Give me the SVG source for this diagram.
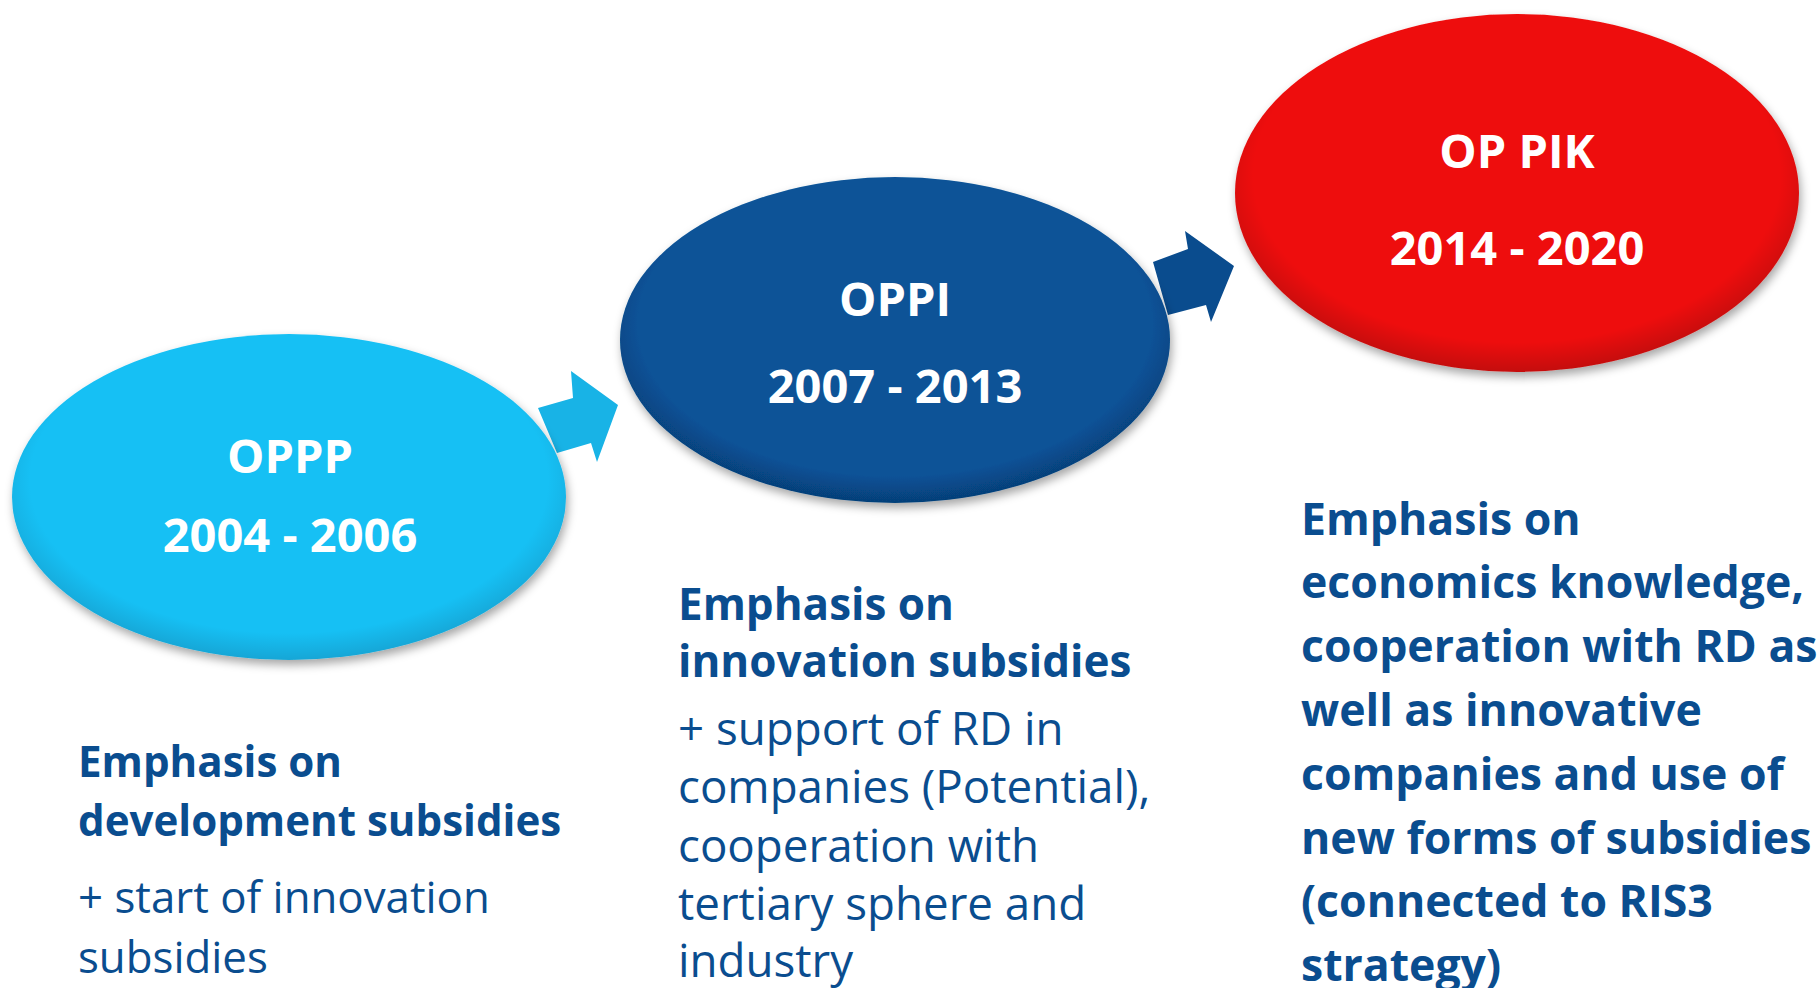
<svg xmlns="http://www.w3.org/2000/svg" width="1820" height="988" viewBox="0 0 1820 988">
<defs>
<filter id="sh" x="-10%" y="-10%" width="120%" height="125%">
<feDropShadow dx="2" dy="5" stdDeviation="5" flood-color="#000" flood-opacity="0.35"/>
</filter>
<radialGradient id="g1" cx="50%" cy="45%" r="55%">
<stop offset="0.85" stop-color="#19c0f4"/>
<stop offset="1" stop-color="#14a6d6"/>
</radialGradient>
<radialGradient id="g2" cx="50%" cy="45%" r="55%">
<stop offset="0.85" stop-color="#085297"/>
<stop offset="1" stop-color="#063f78"/>
</radialGradient>
<radialGradient id="g3" cx="50%" cy="45%" r="55%">
<stop offset="0.85" stop-color="#ee1111"/>
<stop offset="1" stop-color="#c40c0c"/>
</radialGradient>
</defs>
<style>
.nt{font-family:"Open Sans","Noto Sans",sans-serif;font-weight:700;font-size:47px;fill:#fff;text-anchor:middle}
.b{font-family:"Open Sans","Noto Sans",sans-serif;font-weight:700;fill:#0a4d8f}
.r{font-family:"Open Sans","Noto Sans",sans-serif;font-weight:400;fill:#0a4d8f}
</style>
<rect width="1820" height="988" fill="#fff"/>
<g id="connectors">
<polygon points="538,408 573,398 571,371 618,405 597,462 591,443 557,453" fill="#18b3e6"/>
<polygon points="1153,262 1188,249 1185,231 1234,266 1211,322 1206,305 1168,315" fill="#0a4c8e"/>
</g>
<g id="node-oppp">
<ellipse cx="289" cy="497" rx="277" ry="163" fill="url(#g1)" filter="url(#sh)"/>
<text class="nt" x="290" y="473">OPPP</text>
<text class="nt" x="290" y="552">2004 - 2006</text>
</g>
<g id="node-oppi">
<ellipse cx="895" cy="340" rx="275" ry="163" fill="url(#g2)" filter="url(#sh)"/>
<text class="nt" x="895" y="316">OPPI</text>
<text class="nt" x="895" y="403">2007 - 2013</text>
</g>
<g id="node-oppik">
<ellipse cx="1517" cy="193" rx="282" ry="179" fill="url(#g3)" filter="url(#sh)"/>
<text class="nt" x="1517" y="168">OP PIK</text>
<text class="nt" x="1517" y="265">2014 - 2020</text>
</g>
<g id="text-left">
<text class="b" font-size="42.1" x="78" y="777">Emphasis on</text>
<text class="b" font-size="42.1" x="78" y="836">development subsidies</text>
<text class="r" font-size="43.8" x="78" y="913">+ start of innovation</text>
<text class="r" font-size="43.8" x="78" y="973">subsidies</text>
</g>
<g id="text-middle">
<text class="b" font-size="44" x="678" y="620">Emphasis on</text>
<text class="b" font-size="44" x="678" y="677">innovation subsidies</text>
<text class="r" font-size="45.7" x="678" y="745">+ support of RD in</text>
<text class="r" font-size="45.7" x="678" y="803">companies (Potential),</text>
<text class="r" font-size="45.7" x="678" y="862">cooperation with</text>
<text class="r" font-size="45.7" x="678" y="920">tertiary sphere and</text>
<text class="r" font-size="45.7" x="678" y="977">industry</text>
</g>
<g id="text-right">
<text class="b" font-size="44.6" x="1301" y="535">Emphasis on</text>
<text class="b" font-size="44.6" x="1301" y="598">economics knowledge,</text>
<text class="b" font-size="44.6" x="1301" y="662">cooperation with RD as</text>
<text class="b" font-size="44.6" x="1301" y="726">well as innovative</text>
<text class="b" font-size="44.6" x="1301" y="790">companies and use of</text>
<text class="b" font-size="44.6" x="1301" y="854">new forms of subsidies</text>
<text class="b" font-size="44.6" x="1301" y="917">(connected to RIS3</text>
<text class="b" font-size="44.6" x="1301" y="981">strategy)</text>
</g>
</svg>
